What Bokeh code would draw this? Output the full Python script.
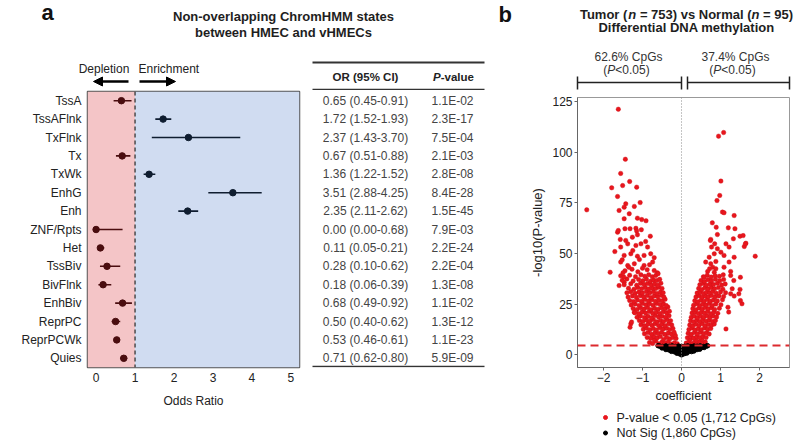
from bokeh.plotting import figure
from bokeh.models import (Range1d, FixedTicker, BoxAnnotation, Span, Arrow,
                          NormalHead, ColumnDataSource)
from bokeh.layouts import column, row
from bokeh.embed import file_html
from bokeh.resources import INLINE
from bokeh.core.properties import value

FONT = "Liberation Sans"

# ---------------- panel a data ----------------
states = ["TssA", "TssAFlnk", "TxFlnk", "Tx", "TxWk", "EnhG", "Enh", "ZNF/Rpts", "Het",
          "TssBiv", "BivFlnk", "EnhBiv", "ReprPC", "ReprPCWk", "Quies"]
odds = [0.65, 1.72, 2.37, 0.67, 1.36, 3.51, 2.35, 0.00, 0.11, 0.28, 0.18, 0.68, 0.50, 0.53, 0.71]
ci_low = [0.45, 1.52, 1.43, 0.51, 1.22, 2.88, 2.11, 0.00, 0.05, 0.10, 0.06, 0.49, 0.40, 0.46, 0.62]
ci_high = [0.91, 1.93, 3.70, 0.88, 1.52, 4.25, 2.62, 0.68, 0.21, 0.62, 0.39, 0.92, 0.62, 0.61, 0.80]
p_values = ["1.1E-02", "2.3E-17", "7.5E-04", "2.1E-03", "2.8E-08", "8.4E-28", "1.5E-45", "7.9E-03",
            "2.2E-24", "2.2E-04", "1.3E-08", "1.1E-02", "1.3E-12", "1.1E-23", "5.9E-09"]
or_ticks = [0, 1, 2, 3, 4, 5]

# ---------------- panel b data (coefficient, -log10 P) ----------------
sig_upper_left = [
    (-1.62, 121.3), (-1.44, 96.6), (-1.56, 89.6), (-1.33, 85.6), (-1.51, 83.6), (-1.79, 82.5),
    (-1.15, 82.8), (-1.64, 78.2), (-2.43, 71.6), (-1.43, 74.6), (-1.47, 72.9), (-1.60, 71.3),
    (-1.21, 73.3), (-1.06, 75.2), (-1.34, 69.7), (-1.47, 67.2), (-1.13, 67.5), (-1.02, 66.8),
    (-0.91, 66.2), (-1.64, 60.6), (-1.62, 61.4), (-1.45, 62.3), (-1.32, 62.3), (-1.17, 62.5),
    (-1.15, 61.2), (-1.03, 61.8), (-1.57, 57.0), (-1.43, 56.5), (-1.26, 58.1), (-1.13, 59.3),
    (-0.92, 56.0), (-0.80, 58.6), (-1.71, 51.0), (-1.56, 53.2), (-1.38, 54.8), (-1.17, 54.0),
    (-1.04, 54.8), (-0.87, 53.2), (-1.47, 49.1), (-1.30, 49.9), (-1.13, 48.7), (-0.96, 49.1),
    (-0.79, 49.9), (-1.83, 40.8), (-1.56, 45.8), (-1.38, 44.1), (-1.21, 45.0), (-1.08, 47.1),
    (-0.96, 44.1), (-0.74, 45.8), (-0.62, 40.5), (-1.52, 46.9), (-1.25, 51.5), (-0.70, 48.0),
    (-1.00, 42.8), (-1.60, 34.2), (-1.47, 35.9), (-1.30, 15.3), (-1.21, 21.0),
]
sig_dense_left = [
    (-0.82, 6.1), (-0.74, 5.6), (-0.66, 6.8), (-0.58, 5.4), (-0.50, 6.3), (-0.42, 5.7), (-0.34, 6.6),
    (-0.26, 5.3), (-0.18, 6.0), (-0.11, 5.5), (-0.70, 7.4), (-0.46, 7.6), (-0.30, 7.9),
    (-0.88, 8.6), (-0.79, 8.2), (-0.71, 9.1), (-0.62, 8.4), (-0.54, 9.0), (-0.38, 8.7), (-0.22, 8.5),
    (-0.14, 8.1), (-0.16, 9.6),
    (-0.95, 10.4), (-0.86, 11.0), (-0.77, 10.2), (-0.68, 10.9), (-0.60, 10.5), (-0.51, 11.2),
    (-0.43, 10.1), (-0.34, 10.8), (-0.26, 10.3), (-0.19, 11.1),
    (-0.98, 12.6), (-0.90, 13.3), (-0.81, 12.4), (-0.72, 13.0), (-0.64, 12.2), (-0.55, 13.4),
    (-0.47, 12.7), (-0.38, 13.1), (-0.30, 12.5), (-0.22, 13.0),
    (-1.04, 14.8), (-0.95, 14.3), (-0.86, 15.2), (-0.76, 14.6), (-0.68, 15.4), (-0.59, 14.5),
    (-0.50, 15.1), (-0.42, 14.4), (-0.33, 15.3), (-0.25, 14.7), (-1.32, 13.6), (-1.28, 16.2),
    (-1.08, 16.9), (-0.99, 16.4), (-0.90, 17.2), (-0.81, 16.6), (-0.72, 17.4), (-0.63, 16.3),
    (-0.54, 17.0), (-0.46, 16.5), (-0.37, 17.3), (-0.28, 16.8),
    (-1.14, 18.6), (-1.05, 19.2), (-0.95, 18.4), (-0.86, 19.0), (-0.77, 18.3), (-0.68, 19.4),
    (-0.59, 18.7), (-0.50, 19.1), (-0.41, 18.5), (-0.32, 19.3),
    (-1.20, 20.8), (-1.10, 20.3), (-1.01, 21.2), (-0.92, 20.6), (-0.83, 21.4), (-0.74, 20.5),
    (-0.65, 21.0), (-0.56, 20.4), (-0.47, 21.3), (-0.38, 20.7), (-0.31, 21.5),
    (-1.24, 22.9), (-1.14, 22.4), (-1.05, 23.2), (-0.96, 22.6), (-0.87, 23.4), (-0.78, 22.3),
    (-0.69, 23.0), (-0.60, 22.5), (-0.51, 23.3), (-0.42, 22.8), (-0.35, 23.6),
    (-1.29, 24.6), (-1.19, 25.1), (-1.09, 24.4), (-1.00, 25.3), (-0.91, 24.7), (-0.82, 25.2),
    (-0.73, 24.5), (-0.64, 25.4), (-0.55, 24.8), (-0.46, 25.1), (-0.39, 24.3),
    (-1.33, 26.8), (-1.23, 26.3), (-1.13, 27.1), (-1.03, 26.5), (-0.94, 27.3), (-0.85, 26.6),
    (-0.76, 27.2), (-0.67, 26.4), (-0.58, 27.0), (-0.49, 26.7), (-0.42, 27.4),
    (-1.37, 28.5), (-1.26, 29.1), (-1.16, 28.4), (-1.06, 29.2), (-0.97, 28.6), (-0.88, 29.3),
    (-0.79, 28.3), (-0.70, 29.0), (-0.61, 28.7), (-0.52, 29.4), (-0.45, 28.5),
    (-1.40, 30.6), (-1.30, 31.2), (-1.19, 30.4), (-1.09, 31.0), (-1.00, 30.5), (-0.90, 31.3),
    (-0.81, 30.7), (-0.72, 31.1), (-0.63, 30.3), (-0.54, 31.0), (-0.47, 30.6),
    (-1.36, 32.9), (-1.22, 32.4), (-1.12, 33.2), (-1.02, 32.6), (-0.93, 33.3), (-0.84, 32.5),
    (-0.75, 33.0), (-0.66, 32.7), (-0.58, 33.4), (-0.50, 32.8),
    (-1.47, 34.6), (-1.30, 35.1), (-1.15, 34.4), (-1.05, 35.3), (-0.96, 34.7), (-0.87, 35.2),
    (-0.78, 34.5), (-0.69, 35.0), (-0.61, 34.3), (-0.53, 35.4),
    (-1.52, 36.8), (-1.40, 37.5), (-1.24, 36.5), (-1.10, 37.2), (-0.99, 36.6), (-0.90, 37.4),
    (-0.80, 36.3), (-0.72, 37.0), (-0.63, 36.7), (-0.56, 37.3),
    (-1.56, 39.0), (-1.48, 38.4), (-1.33, 39.3), (-1.18, 38.6), (-1.04, 39.5), (-0.94, 38.8),
    (-0.84, 39.6), (-0.75, 38.5), (-0.66, 39.2), (-0.60, 40.1),
    (-1.45, 41.5), (-1.27, 42.3), (-1.12, 41.0), (-0.88, 42.0), (-0.70, 41.6), (-1.35, 43.2),
    (-0.82, 44.5), (-1.50, 40.5),
]
sig_upper_right = [
    (1.08, 109.8), (0.95, 108.0), (1.01, 85.8), (0.98, 78.7), (0.91, 76.2), (1.05, 70.5),
    (1.09, 70.2), (1.35, 68.8), (0.79, 65.2), (0.89, 63.0), (1.20, 62.7), (1.37, 62.3),
    (0.92, 59.4), (1.50, 58.6), (1.33, 57.3), (0.75, 57.0), (1.65, 55.1), (1.61, 53.5),
    (1.89, 48.7), (0.74, 56.5), (0.85, 54.8), (0.77, 53.2), (0.92, 52.4), (1.14, 54.8),
    (1.22, 53.2), (1.01, 50.7), (1.09, 49.1), (1.35, 48.2), (0.71, 48.2), (0.84, 49.9),
    (0.62, 45.8), (0.75, 45.0), (0.88, 46.1), (1.22, 45.8), (1.09, 43.3), (0.72, 42.5),
    (0.80, 43.3), (0.88, 42.5), (1.26, 41.2), (0.67, 41.2), (0.84, 40.8), (1.58, 58.9),
    (1.64, 54.8),
]
sig_dense_right = [
    (0.12, 5.8), (0.19, 6.5), (0.26, 5.5), (0.33, 6.2), (0.40, 5.7), (0.47, 6.6), (0.54, 5.9),
    (0.61, 6.3), (0.22, 7.5), (0.37, 7.3), (0.52, 7.7),
    (0.15, 8.4), (0.23, 9.0), (0.31, 8.3), (0.39, 8.9), (0.47, 8.5), (0.55, 9.1), (0.63, 8.6),
    (0.17, 10.6), (0.25, 10.1), (0.33, 11.0), (0.41, 10.4), (0.49, 11.2), (0.57, 10.5),
    (0.65, 10.9), (0.71, 10.3),
    (0.19, 12.5), (0.27, 13.2), (0.35, 12.3), (0.43, 12.9), (0.51, 12.4), (0.59, 13.3),
    (0.67, 12.6), (0.75, 13.0), (1.14, 12.8),
    (0.21, 14.7), (0.29, 14.2), (0.37, 15.1), (0.45, 14.5), (0.53, 15.3), (0.61, 14.4),
    (0.69, 15.0), (0.77, 14.6), (0.84, 15.2),
    (0.23, 16.8), (0.31, 16.3), (0.39, 17.1), (0.47, 16.5), (0.55, 17.3), (0.63, 16.6),
    (0.71, 17.2), (0.79, 16.4), (0.87, 17.0),
    (0.25, 18.5), (0.33, 19.1), (0.41, 18.3), (0.49, 19.0), (0.57, 18.6), (0.65, 19.3),
    (0.73, 18.4), (0.81, 19.2), (0.90, 18.7),
    (0.27, 20.6), (0.35, 21.2), (0.43, 20.4), (0.51, 21.0), (0.59, 20.7), (0.67, 21.4),
    (0.75, 20.3), (0.83, 21.1), (0.93, 20.5), (1.21, 21.1),
    (0.29, 22.8), (0.37, 22.3), (0.45, 23.1), (0.53, 22.5), (0.61, 23.4), (0.69, 22.7),
    (0.77, 23.2), (0.85, 22.4), (0.97, 23.0), (1.19, 23.5),
    (0.31, 24.5), (0.39, 25.2), (0.47, 24.3), (0.55, 25.0), (0.63, 24.6), (0.71, 25.4),
    (0.79, 24.4), (0.88, 25.1), (1.01, 24.7), (1.55, 25.2),
    (0.34, 26.7), (0.42, 26.2), (0.50, 27.0), (0.58, 26.5), (0.66, 27.3), (0.74, 26.4),
    (0.82, 27.1), (0.92, 26.6), (1.05, 27.2), (1.51, 26.8),
    (0.37, 28.6), (0.45, 29.2), (0.53, 28.4), (0.61, 29.0), (0.69, 28.7), (0.77, 29.3),
    (0.86, 28.5), (0.96, 29.1), (1.08, 28.8), (1.35, 29.0),
    (0.40, 30.5), (0.48, 31.1), (0.56, 30.3), (0.64, 30.9), (0.72, 30.6), (0.80, 31.3),
    (0.89, 30.4), (1.00, 31.0), (1.13, 30.7), (1.26, 30.1), (1.47, 30.1),
    (0.44, 32.8), (0.52, 32.3), (0.60, 33.1), (0.68, 32.5), (0.76, 33.3), (0.85, 32.6),
    (0.95, 33.2), (1.06, 32.4), (1.30, 32.6), (1.50, 32.3),
    (0.47, 34.6), (0.56, 35.2), (0.64, 34.4), (0.73, 35.0), (0.82, 34.7), (0.92, 35.3),
    (1.03, 34.5), (1.12, 35.0),
    (0.50, 36.7), (0.59, 36.2), (0.68, 37.1), (0.77, 36.5), (0.87, 37.3), (0.98, 36.6),
    (1.08, 37.2), (1.34, 36.7),
    (0.56, 38.5), (0.66, 39.3), (0.76, 38.4), (0.86, 39.1), (0.97, 38.8), (1.07, 39.5),
    (1.26, 39.2), (1.51, 38.3), (0.58, 38.3),
]
not_sig_points = [
    (-0.60, 4.5), (-0.56, 4.3), (-0.48, 4.1), (-0.40, 4.4), (-0.32, 4.2), (-0.24, 4.4), (-0.16, 4.1),
    (-0.08, 4.3), (0.00, 4.2), (0.08, 4.2), (0.16, 4.4), (0.24, 4.1), (0.32, 4.3), (0.40, 4.2),
    (0.48, 4.4), (0.56, 4.1), (0.64, 4.3), (0.67, 4.5),
    (-0.50, 3.4), (-0.42, 3.2), (-0.34, 3.5), (-0.26, 3.3), (-0.18, 3.4), (-0.10, 3.2), (0.00, 3.4),
    (0.10, 3.3), (0.18, 3.5), (0.26, 3.2), (0.34, 3.4), (0.42, 3.3), (0.50, 3.5), (0.58, 3.6),
    (-0.40, 2.6), (-0.32, 2.4), (-0.24, 2.5), (-0.16, 2.3), (-0.08, 2.5), (0.00, 2.4), (0.08, 2.6),
    (0.16, 2.3), (0.24, 2.5), (0.32, 2.4), (0.40, 2.6), (0.47, 2.8),
    (-0.26, 1.7), (-0.18, 1.5), (-0.10, 1.6), (-0.03, 1.4), (0.04, 1.6), (0.11, 1.5), (0.18, 1.7),
    (0.26, 1.6), (0.32, 1.9),
    (-0.12, 0.8), (-0.05, 0.5), (0.02, 0.3), (0.08, 0.6), (0.14, 0.9), (0.00, 0.0),
]
volcano_xticks = [-2, -1, 0, 1, 2]
volcano_yticks = [0, 25, 50, 75, 100, 125]
sig_threshold = 4.6
legend_labels = ["P-value < 0.05 (1,712 CpGs)", "Not Sig (1,860 CpGs)"]

# ---------------- text width helper (Arial / Liberation metrics) ----------------
REG = {' ': 278, '(': 333, ')': 333, 'P': 667, '<': 584, '.': 278, '-': 333, 'v': 500,
       'a': 556, 'l': 222, 'u': 556, 'e': 556, '%': 889}
BOLD = {' ': 278, '(': 333, ')': 333, 'P': 667, '-': 333, 'v': 556, 'a': 556, 'l': 278,
        'u': 611, 'e': 556, 'T': 611, 'm': 889, 'o': 611, 'r': 389, 'n': 611, '=': 584,
        's': 556, 'N': 722}


def tw(s, size, bold):
    table = BOLD if bold else REG
    return sum(table.get(c, 556) for c in s) * size / 1000.0


def lab(p, x, y, text, size, style="normal", align="left", color="#1e1e1e"):
    # y is the text baseline; draw with a middle anchor at the cap-height centre
    p.text(x=[x], y=[y - 0.36 * size], text=[text], text_font=value(FONT),
           text_font_size=f"{size}px", text_font_style=style, text_align=align,
           text_baseline="middle", text_color=color)


def mixed(p, parts, xc, y, size, color="#1e1e1e"):
    widths = [tw(t, size, "bold" in st) for t, st in parts]
    x = xc - sum(widths) / 2
    for (t, st), w in zip(parts, widths):
        stripped = t.lstrip(" ")
        lead = tw(t[:len(t) - len(stripped)], size, "bold" in st)
        lab(p, x + lead, y, stripped, size, st, "left", color)
        x += w


def base_fig(**kw):
    return figure(output_backend="svg", toolbar_location=None, title=None, **kw)


ROW_H = 320          # height of the row of panels (page y 90 .. 410)
BOTTOM = 43          # same bottom border for every panel of the row (frames end at y 367)

# ---------------- header strip ----------------
fh = base_fig(width=800, height=90, x_range=Range1d(0, 800), y_range=Range1d(90, 0),
              x_axis_type=None, y_axis_type=None, min_border=0, outline_line_color=None)
fh.grid.visible = False

lab(fh, 41, 20, "a", 22, "bold", color="#111")
lab(fh, 498, 21.5, "b", 22, "bold", color="#111")
lab(fh, 283, 21, "Non-overlapping ChromHMM states", 13, "bold", "center")
lab(fh, 283, 37, "between HMEC and vHMECs", 13, "bold", "center")
mixed(fh, [("Tumor (", "bold"), ("n", "bold italic"), (" = 753) vs Normal (", "bold"),
           ("n", "bold italic"), (" = 95)", "bold")], 686, 18.5, 13)
lab(fh, 686, 32, "Differential DNA methylation", 13, "bold", "center")

lab(fh, 103.5, 72.5, "Depletion", 12, align="center", color="#222")
lab(fh, 138, 72.5, "Enrichment", 12, color="#222")
fh.add_layout(Arrow(end=NormalHead(size=9, fill_color="black", line_color="black"),
                    x_start=128, y_start=81, x_end=93, y_end=81, line_width=2.5, line_color="black"))
fh.add_layout(Arrow(end=NormalHead(size=9, fill_color="black", line_color="black"),
                    x_start=139, y_start=81, x_end=175, y_end=81, line_width=2.5, line_color="black"))

# table header
fh.segment(x0=312, y0=62, x1=484, y1=62, line_width=2, line_color="#333")
fh.segment(x0=312, y0=89, x1=484, y1=89, line_width=1.5, line_color="#333")
lab(fh, 365, 80.5, "OR (95% CI)", 11.5, "bold", "center", "#222")
mixed(fh, [("P", "bold italic"), ("-value", "bold")], 453, 80.5, 11.5, "#222")

# volcano brackets
lab(fh, 628, 61, "62.6% CpGs", 12, align="center", color="#333")
mixed(fh, [("(", "normal"), ("P", "italic"), ("<0.05)", "normal")], 626, 74, 12, "#333")
lab(fh, 735, 61, "37.4% CpGs", 12, align="center", color="#333")
mixed(fh, [("(", "normal"), ("P", "italic"), ("<0.05)", "normal")], 732, 74, 12, "#333")
fh.segment(x0=[577, 687], y0=[82, 82], x1=[681, 789], y1=[82, 82], line_width=1.5, line_color="#222")
fh.segment(x0=[577, 681, 687, 789], y0=[76] * 4, x1=[577, 681, 687, 789], y1=[89] * 4,
           line_width=1.5, line_color="#222")

# ---------------- panel a: forest plot ----------------
colors = ["#4a0d0f" if o < 1 else "#0f1d30" for o in odds]
src_a = ColumnDataSource(dict(state=states, odds=odds, lo=ci_low, hi=ci_high, color=colors))

fa = base_fig(width=306, height=ROW_H, x_range=Range1d(-0.22, 5.22), y_range=states[::-1],
              min_border_left=87, min_border_right=7, min_border_top=1, min_border_bottom=BOTTOM)
fa.grid.visible = False
fa.add_layout(BoxAnnotation(right=1, fill_color="#f4c5c7", fill_alpha=1, line_color=None, level="underlay"))
fa.add_layout(BoxAnnotation(left=1, fill_color="#d0dcf1", fill_alpha=1, line_color=None, level="underlay"))
fa.add_layout(Span(location=1, dimension="height", line_color="#333", line_dash="4 3", line_width=1.3))
fa.segment(x0="lo", y0="state", x1="hi", y1="state", source=src_a, line_color="color", line_width=1.6)
fa.scatter(x="odds", y="state", source=src_a, size=6.5, fill_color="color", line_color="color")

fa.outline_line_color = "#555"
fa.outline_line_width = 1.5
fa.xaxis.ticker = FixedTicker(ticks=or_ticks)
fa.axis.axis_line_color = None
fa.axis.major_tick_line_color = None
fa.axis.minor_tick_line_color = None
fa.axis.major_tick_out = 0
fa.axis.major_tick_in = 0
fa.axis.major_label_text_font = FONT
fa.axis.major_label_text_font_size = "12px"
fa.axis.major_label_text_color = "#222"
fa.xaxis.major_label_standoff = 5
fa.yaxis.major_label_standoff = 6
fa.xaxis.axis_label = "Odds Ratio"
fa.xaxis.axis_label_text_font = FONT
fa.xaxis.axis_label_text_font_size = "12px"
fa.xaxis.axis_label_text_font_style = "normal"
fa.xaxis.axis_label_text_color = "#222"
fa.xaxis.axis_label_standoff = 9

# ---------------- table (rows share the forest plot's row positions) ----------------
or_text = [f"{o:.2f} ({l:.2f}-{h:.2f})" for o, l, h in zip(odds, ci_low, ci_high)]
src_t = ColumnDataSource(dict(idx=list(range(len(states))), ortext=or_text, ptext=p_values))
ft = base_fig(width=184, height=ROW_H, x_range=Range1d(306, 490),
              y_range=Range1d(len(states) - 0.5, -0.5),
              x_axis_type=None, y_axis_type=None,
              min_border_left=0, min_border_right=0, min_border_top=1, min_border_bottom=BOTTOM,
              outline_line_color=None)
ft.grid.visible = False
ft.text(x=365, y="idx", text="ortext", source=src_t, text_align="center", text_baseline="middle",
        text_font=value(FONT), text_font_size="12px", text_color="#444")
ft.text(x=452, y="idx", text="ptext", source=src_t, text_align="center", text_baseline="middle",
        text_font=value(FONT), text_font_size="12px", text_color="#444")
ft.segment(x0=312, y0=len(states) - 0.55, x1=484, y1=len(states) - 0.55, line_width=1.5, line_color="#333")

# ---------------- panel b: volcano ----------------
sig_all = sig_upper_left + sig_dense_left + sig_upper_right + sig_dense_right
src_sig = ColumnDataSource(dict(x=[p[0] for p in sig_all], y=[p[1] for p in sig_all]))
src_ns = ColumnDataSource(dict(x=[p[0] for p in not_sig_points], y=[p[1] for p in not_sig_points]))

RED_FILL, RED_LINE = "#e8161d", "#d01218"

fb = base_fig(width=310, height=ROW_H, x_range=Range1d(-2.667, 2.769), y_range=Range1d(-6.27, 127.1),
              min_border_left=87, min_border_right=11, min_border_top=7, min_border_bottom=BOTTOM)
fb.grid.visible = False
fb.add_layout(Span(location=0, dimension="height", line_color="#8a8a8a", line_dash="1 2", line_width=1))
fb.scatter(x="x", y="y", source=src_sig, size=4.5, fill_color=RED_FILL, line_color=RED_LINE, line_width=0.4)
fb.scatter(x="x", y="y", source=src_ns, size=4.5, fill_color="black", line_color="black")
fb.add_layout(Span(location=sig_threshold, dimension="width", line_color="#dc2a2e",
                   line_dash="8 5", line_width=2))

fb.outline_line_color = "#999"
fb.outline_line_width = 1
fb.xaxis.ticker = FixedTicker(ticks=volcano_xticks)
fb.yaxis.ticker = FixedTicker(ticks=volcano_yticks)
fb.axis.axis_line_color = "#666"
fb.axis.major_tick_line_color = "#666"
fb.axis.minor_tick_line_color = None
fb.axis.major_tick_out = 3
fb.axis.major_tick_in = 0
fb.axis.major_label_standoff = 2
fb.axis.major_label_text_font = FONT
fb.axis.major_label_text_font_size = "12px"
fb.axis.major_label_text_color = "#222"
fb.axis.axis_label_text_font = FONT
fb.axis.axis_label_text_font_style = "normal"
fb.axis.axis_label_text_color = "#222"
fb.xaxis.axis_label = "coefficient"
fb.xaxis.axis_label_text_font_size = "12.5px"
fb.xaxis.axis_label_standoff = 4
fb.yaxis.axis_label = "-log10(P-value)"
fb.yaxis.axis_label_text_font_size = "13px"
fb.yaxis.axis_label_standoff = 4

# ---------------- bottom strip: legend of panel b (page-pixel coordinates) ----------------
fl = base_fig(width=800, height=442 - 90 - ROW_H, x_range=Range1d(0, 800), y_range=Range1d(442, 90 + ROW_H),
              x_axis_type=None, y_axis_type=None, min_border=0, outline_line_color=None)
fl.grid.visible = False
leg_src = ColumnDataSource(dict(x=[605, 605], y=[417, 432.5], tx=[616, 616],
                                label=legend_labels, fill=[RED_FILL, "black"]))
fl.scatter(x="x", y="y", source=leg_src, size=4, fill_color="fill", line_color="fill")
fl.text(x="tx", y="y", text="label", source=leg_src, text_baseline="middle", text_align="left",
        text_font=value(FONT), text_font_size="12.5px", text_color="#222")

# the volcano plot is wrapped in its own column so that its frame is not aligned with panel a
layout = column(fh, row(fa, ft, column(fb)), fl)

with open("out.html", "w") as f:
    f.write(file_html(layout, INLINE))
